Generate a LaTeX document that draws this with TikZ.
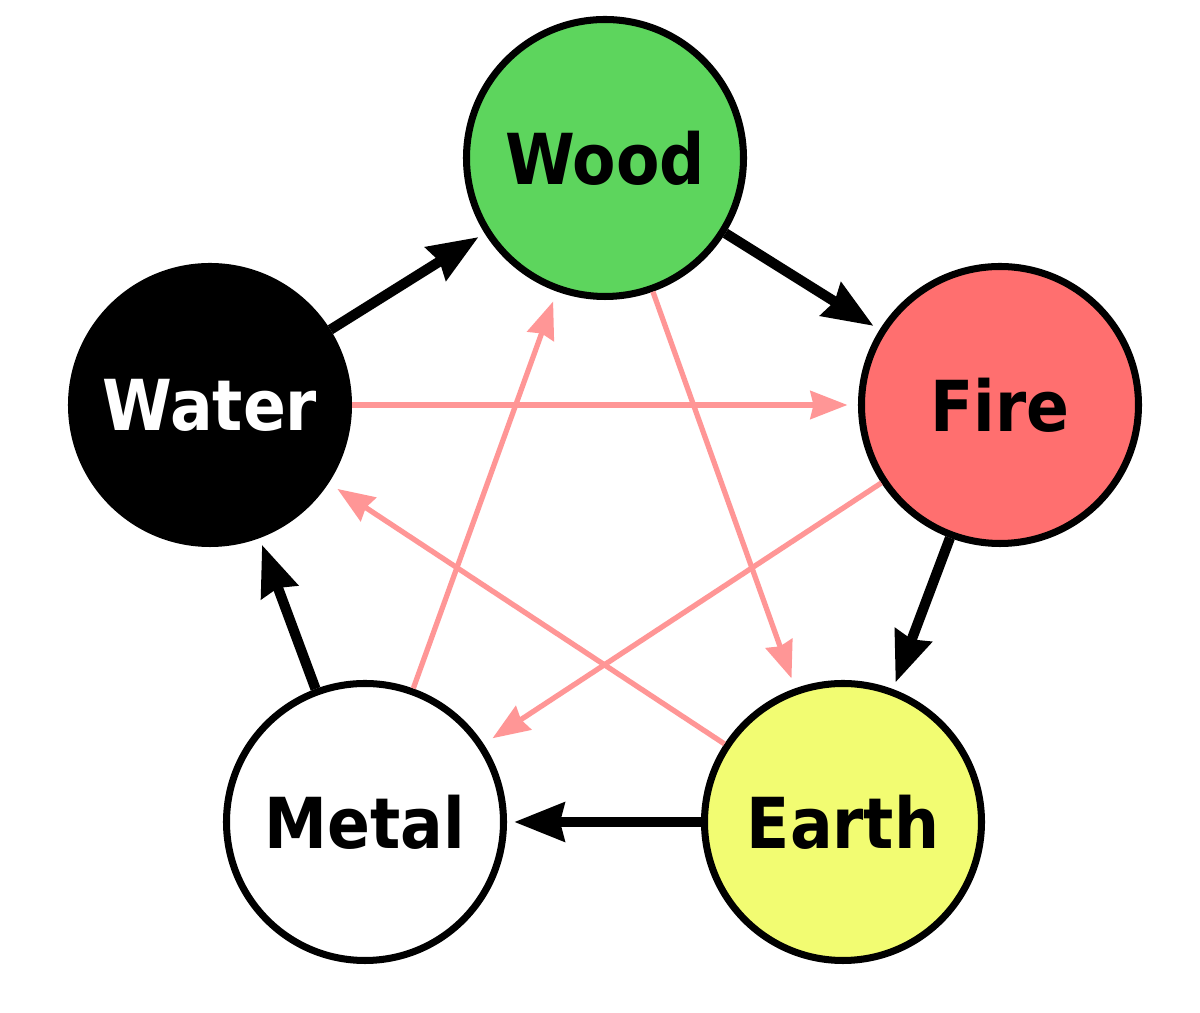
\documentclass[tikz,border=0pt]{standalone}
\usepackage{fontspec}
\setmainfont{DejaVu Sans}
\newfontfamily\labelfont{DejaVu Sans Condensed}
\usetikzlibrary{arrows.meta}

\definecolor{woodgreen}{RGB}{93,213,93}
\definecolor{firered}{RGB}{255,111,111}
\definecolor{earthyellow}{RGB}{242,252,114}
\definecolor{curbpink}{RGB}{255,150,150}

\tikzset{
  element/.style={draw, circle, line width=2pt, minimum size=2.77cm, inner sep=0pt,
    font=\labelfont\fontsize{20}{24}\selectfont\bfseries},
  feed/.style={-{Stealth[length=0.5cm, width=0.38cm, inset=0.04cm]}, line width=2.9pt, shorten >=2pt},
  curb/.style={-{Stealth[length=0.37cm, width=0.28cm, inset=0.03cm]}, line width=1.5pt, curbpink, shorten >=3pt}
}

\begin{document}
\begin{tikzpicture}
  \useasboundingbox (0,0) rectangle (12,10.13);
  % the five elements
  \node[element, fill=woodgreen] (wood) at (6.05,8.55) {Wood};
  \node[element, fill=firered] (fire) at (10.00,6.08) {Fire};
  \node[element, fill=earthyellow] (earth) at (8.43,1.91) {Earth};
  \node[element, fill=white] (metal) at (3.65,1.91) {Metal};
  \node[element, fill=black, text=white] (water) at (2.10,6.08) {Water};
  % generating cycle
  \foreach \from/\to in {water/wood, wood/fire, fire/earth, earth/metal, metal/water}
    \draw[feed] (\from) -- (\to);
  % controlling cycle
  \foreach \from/\to in {water/fire, fire/metal, metal/wood, wood/earth, earth/water}
    \draw[curb] (\from) -- (\to);
\end{tikzpicture}
\end{document}
